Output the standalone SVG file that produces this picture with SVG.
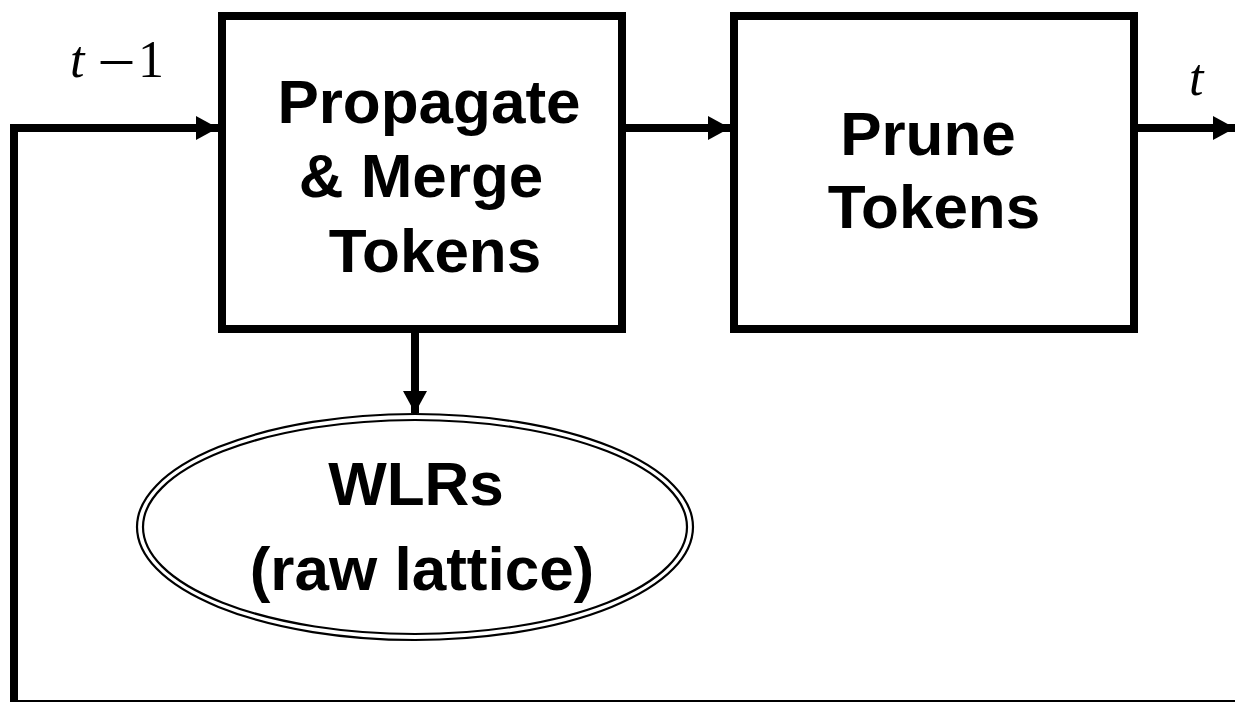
<svg xmlns="http://www.w3.org/2000/svg" width="1235" height="702" viewBox="0 0 1235 702">
  <style>
    .box { fill: #fff; stroke: #000; stroke-width: 8; }
    .wire { fill: none; stroke: #000; stroke-width: 8; stroke-linejoin: miter; }
    .ring { fill: none; stroke: #000; stroke-width: 2.2; }
    .label { font-family: "Liberation Sans", Arial, sans-serif; font-weight: bold; font-size: 62px; fill: #000; text-anchor: middle; }
    .math { font-family: "Liberation Serif", "Times New Roman", serif; font-size: 52px; fill: #000; }
  </style>
  <defs>
    <marker id="head" markerUnits="userSpaceOnUse" markerWidth="22" markerHeight="24" refX="22" refY="12" orient="auto">
      <path d="M0,0 L22,12 L0,24 Z" fill="#000"/>
    </marker>
  </defs>

  <rect width="1235" height="702" fill="#fff"/>

  <g id="connectors">
    <!-- feedback loop: bottom edge back up into the first stage -->
    <polyline class="wire" points="1235,704 14,704 14,128 218,128" marker-end="url(#head)"/>
    <!-- stage 1 to stage 2 -->
    <line class="wire" x1="626" y1="128" x2="730" y2="128" marker-end="url(#head)"/>
    <!-- output -->
    <line class="wire" x1="1138" y1="128" x2="1235" y2="128" marker-end="url(#head)"/>
    <!-- stage 1 down to the lattice store -->
    <line class="wire" x1="415" y1="333" x2="415" y2="413" marker-end="url(#head)"/>
  </g>

  <g id="label-t-minus-1">
    <text class="math" y="77"><tspan x="70" font-style="italic">t</tspan><tspan x="101" font-size="62">–</tspan><tspan x="138">1</tspan></text>
  </g>
  <g id="label-t">
    <text class="math" x="1189" y="95" font-style="italic">t</text>
  </g>

  <g id="propagate-merge">
    <rect class="box" x="222" y="16" width="400" height="313"/>
    <text class="label" x="429" y="123">Propagate</text>
    <text class="label" x="421" y="197">&amp; Merge</text>
    <text class="label" x="435" y="272">Tokens</text>
  </g>

  <g id="prune">
    <rect class="box" x="734" y="16" width="400" height="313"/>
    <text class="label" x="928" y="155">Prune</text>
    <text class="label" x="934" y="228">Tokens</text>
  </g>

  <g id="wlrs">
    <ellipse class="ring" cx="415" cy="527" rx="278" ry="113"/>
    <ellipse class="ring" cx="415" cy="527" rx="272" ry="107"/>
    <text class="label" x="416" y="505">WLRs</text>
    <text class="label" x="422" y="590">(raw lattice)</text>
  </g>
</svg>
